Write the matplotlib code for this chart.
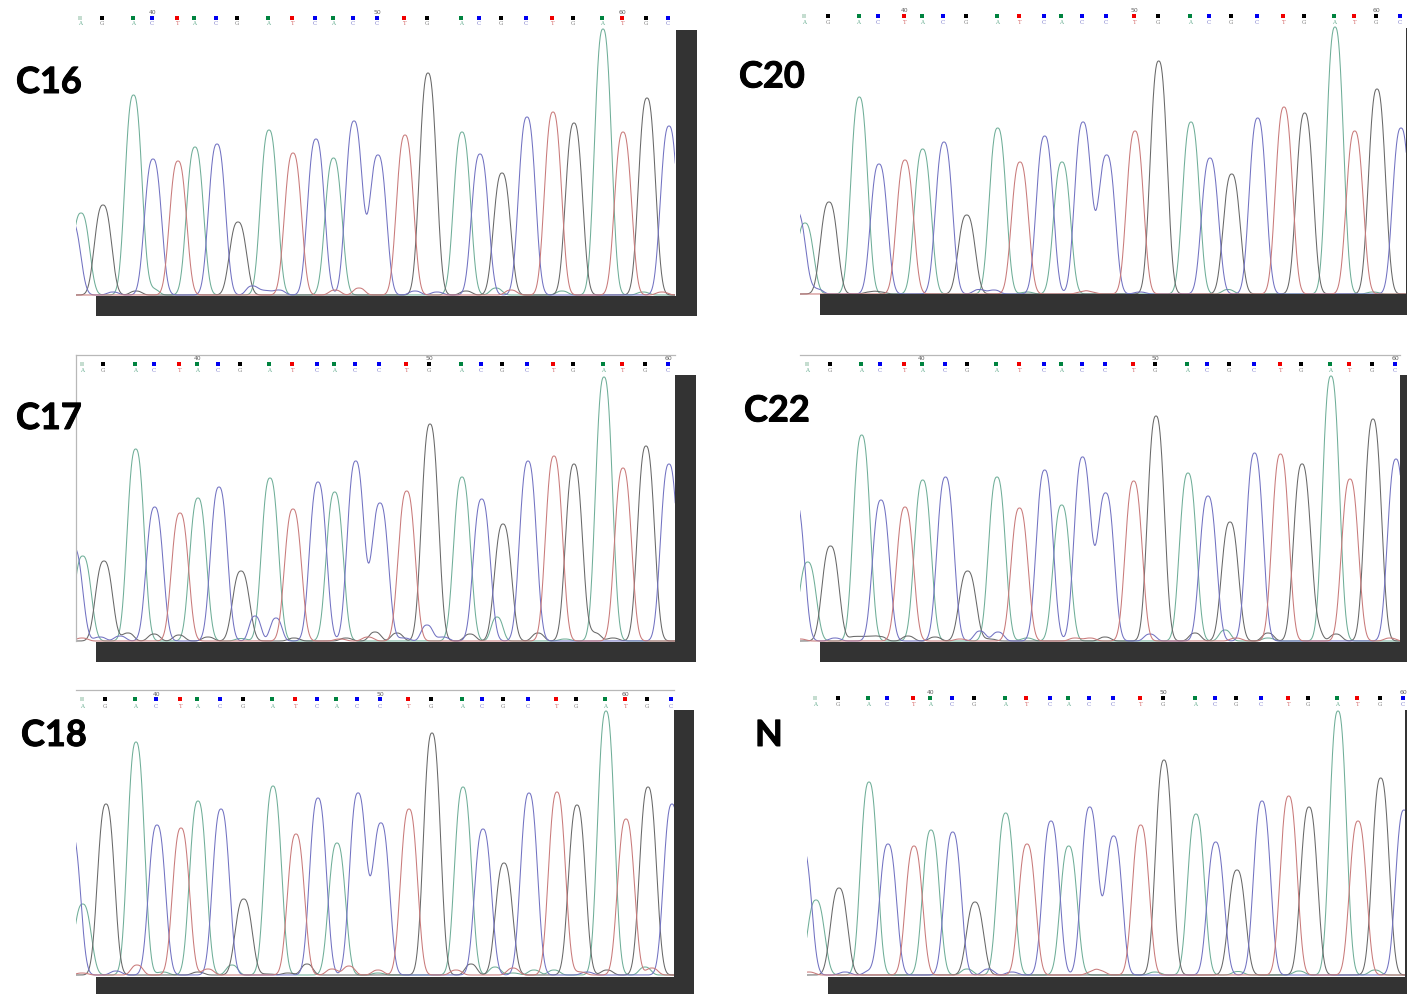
import numpy as np
import matplotlib
matplotlib.use("Agg")
import matplotlib.pyplot as plt
import matplotlib.patheffects as pe
from matplotlib.patches import Rectangle

W, H = 1407, 994

# base calls, first entry is the clipped leading C peak
bases = list("CAGACTACGATCACCTGACGCTGATGC")

c16_x = [72, 81, 103, 133.5, 153, 178, 195, 217, 238, 269, 293, 316, 333.5, 354, 378, 405, 428, 462, 480, 502, 527, 553, 574, 603, 623, 647, 669]
c16_h = [73, 82, 90, 200, 136, 134, 148, 151, 73, 165, 142, 156, 137, 174, 140, 160, 222, 163, 141, 122, 178, 183, 172, 266, 163, 197, 169]
c16_mx = [113, 136, 153, 252, 265, 279, 335, 359, 415, 437, 466, 496, 511, 562, 643, 662]
c16_mh = [3, 4, 6, 9, 4.5, 5, 5, 7, 4, 3, 4, 7, 5, 4, 3, 3]
c16_mb = list("CGACCCTTCCGATAAT")

c20_x = [797, 805, 829, 859.3, 879, 905, 922.7, 944, 966.7, 997.7, 1020, 1044.7, 1062, 1083, 1106.7, 1135, 1158.7, 1191, 1210, 1231.7, 1257.7, 1284, 1304.7, 1335, 1354.7, 1377, 1401]
c20_h = [82, 71, 92, 197, 130, 134, 145, 152, 79, 166, 132, 158, 132, 172, 139, 163, 233, 172, 136, 120, 176, 187, 181, 267, 163, 205, 166]
c20_mx = [817, 870, 880, 979, 994, 1027, 1082, 1090, 1140, 1228, 1373]
c20_mh = [5, 2, 2, 4.5, 4, 2, 2, 2, 2, 4.5, 2]
c20_mb = list("CGGCCATTCAA")

c17_x = [74, 82.7, 104, 135.7, 154.7, 180, 198, 219, 241, 270, 293, 318, 334.7, 355.7, 380, 406.7, 430, 462, 481.7, 503, 528, 554, 574, 604, 623, 646, 669]
c17_h = [93, 85, 80, 192, 134, 128, 143, 154, 70, 163, 132, 159, 149, 180, 138, 150, 217, 164, 142, 117, 180, 185, 177, 264, 173, 195, 177]
c17_mx = [100, 120, 128, 154, 179, 208, 241, 294, 346, 82, 340, 255, 276, 375, 368, 397, 427, 404, 443, 470, 497, 538, 565, 613, 595]
c17_mh = [4, 5, 8, 7, 6, 4, 2.5, 3, 3, 3, 2, 25, 23, 9, 4, 8, 16, 3, 4, 7, 24, 8, 2, 3, 8]
c17_mb = list("CCGGGGAGGTTCCGTGCCCGAGAGG")

c22_x = [796, 807.7, 830.5, 861.7, 881, 905, 922.7, 945.5, 967.6, 997, 1019.5, 1044.7, 1061.7, 1082.5, 1105.7, 1133.7, 1156, 1188, 1208, 1230, 1254.6, 1280.5, 1302, 1331, 1350, 1373, 1396]
c22_h = [139, 79, 95, 206, 141, 134, 161, 164, 70, 164, 133, 171, 136, 184, 148, 160, 225, 168, 145, 119, 188, 187, 177, 265, 162, 222, 182]
c22_mx = [800, 835, 855, 868, 880, 908, 935, 960, 980, 998, 990, 1027, 1075, 1090, 1105, 1150, 1195, 1225, 1236, 1268, 1268, 1336, 1316, 1390]
c22_mh = [2, 3, 4.5, 4.5, 4.5, 5, 4, 2, 10, 9, 2, 3, 3, 3, 4, 7, 8, 11, 3, 8, 3, 7, 12, 3]
c22_mb = list("TCGGGGGTCCGATTGCGATGAGGT")

c18_x = [72, 82.7, 106, 136, 157, 181, 198, 221, 243.7, 273, 296, 318, 337, 358, 381, 409, 432, 463, 483, 504, 529, 557, 577, 606, 626, 648, 672]
c18_h = [141, 71, 171, 233, 150, 147, 174, 166, 76, 189, 141, 177, 132, 182, 152, 166, 242, 188, 146, 112, 182, 183, 170, 264, 156, 188, 171]
c18_mx = [116, 137, 163, 198, 208, 232, 82, 268, 288, 307, 332, 349, 378, 378, 456, 471, 495, 513, 513, 534, 554, 580, 587, 607, 645, 652]
c18_mh = [4, 10, 3, 3, 6, 10, 2, 1, 2, 11, 6, 9, 2, 5, 5, 11, 8, 7, 2, 5, 5, 3, 3, 5, 8, 7]
c18_mb = list("CTAGTATGGGTTATTGATAAATCGAT")

n_x = [803, 816, 839, 869, 888, 914, 931, 952.7, 975, 1005.7, 1027, 1051, 1068.7, 1089.7, 1113.7, 1140.7, 1164, 1196, 1215.7, 1237, 1262, 1288.7, 1309, 1338, 1358, 1380.7, 1404]
n_h = [126, 75, 87, 193, 131, 129, 145, 143, 73, 162, 131, 154, 129, 168, 139, 150, 215, 161, 133, 105, 174, 179, 168, 264, 154, 197, 165]
n_mx = [809, 845, 870, 967, 988, 1012, 1092, 1100, 1155, 1238, 1299, 1375]
n_mh = [3, 3, 4, 6, 6, 3, 3, 4, 3, 3.5, 4, 5]
n_mb = list("TCCACCTTAAAA")

colors = {"A": "#6fae98", "G": "#686868", "C": "#7272c2", "T": "#c97a7a"}
square_colors = {"A": "#00833f", "G": "#000000", "C": "#0000f0", "T": "#f00000"}
letter_colors = {"A": "#66ad90", "G": "#808080", "C": "#7a7acc", "T": "#d87070"}


def px_rect(x0, y0, x1, y1):
    return [x0 / W, 1 - y1 / H, (x1 - x0) / W, (y1 - y0) / H]


def trace(x, h, b, grid, base, width):
    y = np.zeros_like(grid)
    for xi, hi, bi in zip(x, h, b):
        if bi == base:
            y = y + hi * np.exp(-(np.abs(grid - xi) / width) ** 2.6)
    return y


panels = [
    dict(name="C16", x=c16_x, h=c16_h, mx=c16_mx, mh=c16_mh, mb=c16_mb, left=76, right=675, base=295, top=5,
         sq=17.5, lt=23.5, num=12, tick=(3, 13, 23), frame=None, lab=(16, 82.5),
         bars=[(96, 296, 697, 316), (676, 30, 697, 316)]),
    dict(name="C20", x=c20_x, h=c20_h, mx=c20_mx, mh=c20_mh, mb=c20_mb, left=800, right=1406, base=294, top=3,
         sq=15.5, lt=22, num=10, tick=(4, 14, 24), frame=None, lab=(739, 77),
         bars=[(820, 294, 1407, 315), (1405.5, 28, 1407, 315)]),
    dict(name="C17", x=c17_x, h=c17_h, mx=c17_mx, mh=c17_mh, mb=c17_mb, left=76, right=675, base=641, top=350,
         sq=364, lt=371, num=359, tick=(5, 15, 25), frame=355, lab=(16, 418.5),
         bars=[(96, 642, 696, 662), (675, 375, 696, 662)]),
    dict(name="C22", x=c22_x, h=c22_h, mx=c22_mx, mh=c22_mh, mb=c22_mb, left=800, right=1400, base=641, top=350,
         sq=364, lt=371, num=359, tick=(5, 15, 25), frame=355, lab=(744, 411),
         bars=[(820, 642, 1407, 662), (1400, 375, 1407, 662)]),
    dict(name="C18", x=c18_x, h=c18_h, mx=c18_mx, mh=c18_mh, mb=c18_mb, left=76, right=674, base=975, top=685,
         sq=699, lt=706, num=694, tick=(3, 13, 23), frame=690, lab=(21, 735.5),
         bars=[(96, 977, 694, 994), (674, 710, 694, 994)]),
    dict(name="N", x=n_x, h=n_h, mx=n_mx, mh=n_mh, mb=n_mb, left=807, right=1405, base=975, top=685,
         sq=698, lt=705, num=693, tick=(5, 15, 25), frame=None, lab=(755, 735.5),
         bars=[(828, 977, 1407, 994), (1405, 710, 1407, 994)]),
]

fig = plt.figure(figsize=(W / 100, H / 100), dpi=100, facecolor="white")
numbers = ["40", "50", "60"]

for p in panels:
    ax = fig.add_axes(px_rect(p["left"], p["top"], p["right"], p["base"] + 1))
    ax.set_xlim(p["left"], p["right"])
    ax.set_ylim(-1, p["base"] - p["top"])
    ax.axis("off")
    grid = np.arange(p["left"] - 1, p["right"] + 1.01, 0.25)
    for b in "AGCT":
        y = trace(p["x"], p["h"], bases, grid, b, 10.7) + trace(p["mx"], p["mh"], p["mb"], grid, b, 7.5)
        ax.plot(grid, y, color=colors[b], lw=0.75, solid_joinstyle="round")

    yq = p["base"] - p["sq"]
    yl = p["base"] - p["lt"]
    yn = p["base"] - p["num"]
    for i, (xi, b) in enumerate(zip(p["x"][1:], bases[1:])):
        cx = xi - 0.8
        first = i == 0
        ax.scatter([cx], [yq], s=9, marker="s", linewidths=0, clip_on=False,
                   color="#c5ddd0" if first else square_colors[b])
        ax.text(cx, yl, b, fontsize=4, family="DejaVu Serif", color=letter_colors[b],
                ha="center", va="center", clip_on=False)
    for t, lab in zip(p["tick"], numbers):
        ax.text(p["x"][t + 1] - 0.8, yn, lab, fontsize=4.4, color="#606060",
                ha="center", va="center", clip_on=False)

    if p["frame"] is not None:
        fy = p["frame"]
        ax.plot([p["left"], p["right"]], [p["base"] - fy] * 2, color="#b8b8b8", lw=0.9, clip_on=False)
        if p["name"] == "C17":
            ax.plot([p["left"]] * 2, [0, p["base"] - fy], color="#b8b8b8", lw=0.9, clip_on=False)

    for x0, y0, x1, y1 in p["bars"]:
        fig.add_artist(Rectangle((x0 / W, 1 - y1 / H), (x1 - x0) / W, (y1 - y0) / H,
                                 transform=fig.transFigure, color="#333333", lw=0, zorder=2))
    fig.text(p["lab"][0] / W, 1 - p["lab"][1] / H, p["name"], fontsize=26, fontweight="bold",
             family="Lato", color="black", ha="left", va="center", zorder=5,
             path_effects=[pe.withStroke(linewidth=0.7, foreground="black")])

fig.savefig("out.png", dpi=100, facecolor="white")
